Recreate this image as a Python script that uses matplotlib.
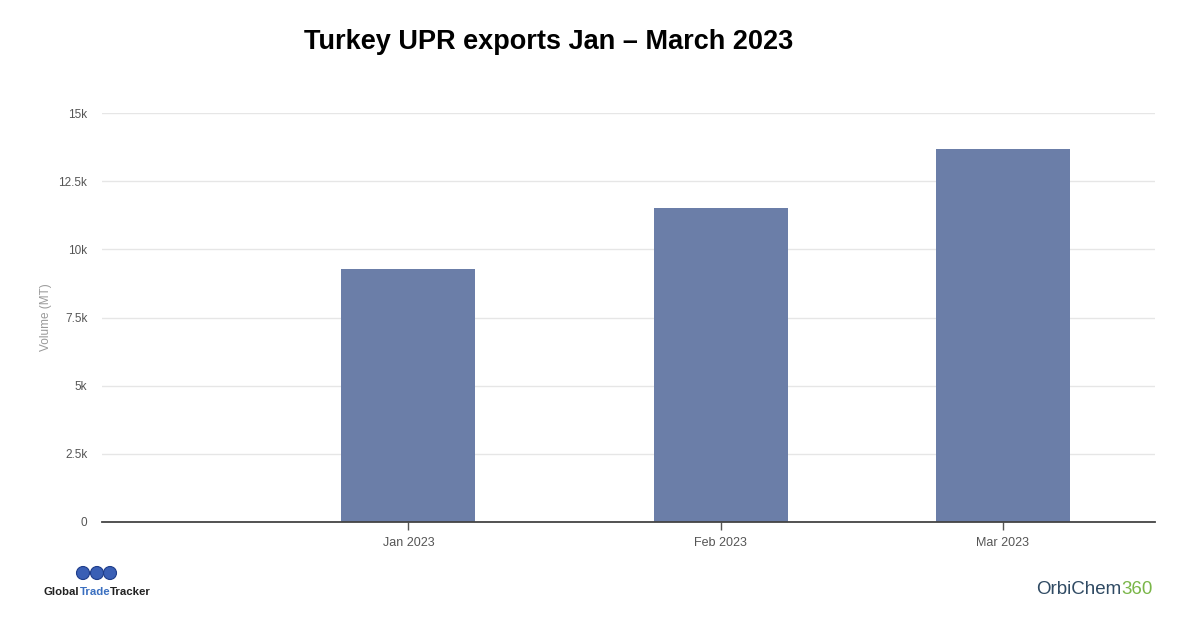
import matplotlib
matplotlib.use("Agg")
import matplotlib.pyplot as plt
import matplotlib.dates as mdates
from matplotlib.patches import Ellipse
import datetime as dt

plt.rcParams['font.family'] = ['Liberation Sans', 'DejaVu Sans']

# ---- data ----
months = ["2023-01-01", "2023-02-01", "2023-03-01"]
month_labels = ["Jan 2023", "Feb 2023", "Mar 2023"]
volumes = [9280, 11520, 13690]
y_ticks = [0, 2500, 5000, 7500, 10000, 12500, 15000]
y_tick_labels = ["0", "2.5k", "5k", "7.5k", "10k", "12.5k", "15k"]
title = "Turkey UPR exports Jan \u2013 March 2023"

dates = [dt.datetime.strptime(m, "%Y-%m-%d") for m in months]
xnum = mdates.date2num(dates)

W, H = 1200, 627
fig = plt.figure(figsize=(12, 6.27), dpi=100)
ax = fig.add_axes([102/W, 1-522/H, (1155-102)/W, (522-113)/H])

ax.bar(xnum, volumes, width=13.3, color="#6b7ea8", zorder=3)

ax.set_xlim(xnum[0] - 30.4, xnum[2] + 15.1)
ax.set_ylim(0, 15000)
ax.set_xticks(xnum)
ax.set_xticklabels(month_labels, color="#555555", fontsize=9)
ax.set_yticks(y_ticks)
ax.set_yticklabels(y_tick_labels, color="#555555", fontsize=8.5)
ax.tick_params(axis='y', length=0, pad=10.5)
ax.tick_params(axis='x', length=6, width=1, color="#555555", pad=5)
ax.grid(axis='y', color="#e6e6e6", linewidth=1, zorder=0)
for s in ["top", "right", "left"]:
    ax.spines[s].set_visible(False)
ax.spines["bottom"].set_color("#444444")
ax.spines["bottom"].set_linewidth(1.3)
ax.spines["bottom"].set_zorder(4)
ax.set_ylabel("Volume (MT)", color="#999999", fontsize=8.5, labelpad=5)

fig.text(549/W, 1-42/H, title, ha="center", va="center",
         fontsize=19.5, fontweight="bold", color="black")

# ---- logos as text ----
# GlobalTradeTracker
for cx in [83, 97, 110]:
    fig.patches.append(Ellipse((cx/W, 1-573/H), 13/W, 13/H, transform=fig.transFigure,
                               facecolor="#3a5fb5", edgecolor="#1e3c8a", lw=0.8))
fig.canvas.draw()
r = fig.canvas.get_renderer()
x = 44
for part, col in [("Global", "#222222"), ("Trade", "#3a6fc0"), ("Tracker", "#222222")]:
    t = fig.text(x/W, 1-592/H, part, fontsize=8.2, fontweight="bold",
                 color=col, ha="left", va="center")
    bb = t.get_window_extent(r)
    x = bb.x1

# OrbiChem360
t3 = fig.text(1036/W, 1-590/H, "OrbiChem", fontsize=13.5,
              color="#2f4a63", ha="left", va="center")
bb3 = t3.get_window_extent(r)
fig.text(bb3.x1/W, 1-590/H, "360", fontsize=13.5,
         color="#7ab648", ha="left", va="center")

fig.savefig("out.png", dpi=100)
